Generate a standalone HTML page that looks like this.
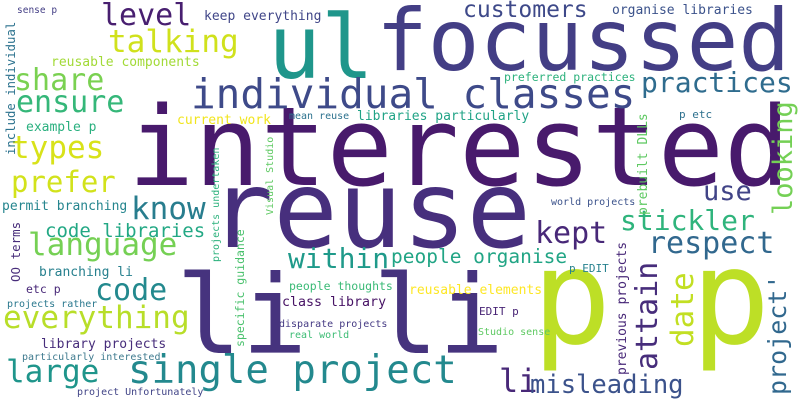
<!DOCTYPE html>
<html><head><meta charset="utf-8"><style>
html,body{margin:0;padding:0;background:#fff;}
svg{display:block;}
text{font-family:"DejaVu Sans Mono","Liberation Mono",monospace;}
</style></head><body>
<svg id="cloud" width="800" height="400" xmlns="http://www.w3.org/2000/svg">
<rect width="800" height="400" fill="#ffffff"/>
</svg>
<script>
// word, x, baseline y, font size, color, rotated(-90)
const words = [
["interested",128,185,110,"#481a6c",0],
["ul",268,78,88,"#1f968b",0],
["focussed",376,70,86,"#433e85",0],
["reuse",209,247,107,"#472f7d",0],
["li li",176,353,109,"#46337e",0],
["p p",532,343,132,"#bddf26",0],
["single project",128,383,39,"#23898e",0],
["li",499,392,32,"#482878",0],
["misleading",530,393,25.5,"#3b528b",0],
["level",101,25,30,"#481f70",0],
["keep everything",204,20,13,"#404688",0],
["sense p",17,13,9.5,"#433e85",0],
["talking",108,52,31,"#d0e11c",0],
["reusable components",51,66,13,"#a2da37",0],
["share",14,90,30,"#7ad151",0],
["ensure",16,112,30,"#35b779",0],
["individual classes",191,108,41,"#3e4a89",0],
["customers",463,17,23,"#3e4989",0],
["organise libraries",612,14,13,"#3b528b",0],
["practices",641,92,28,"#2f6c8e",0],
["preferred practices",504,81,11.5,"#2db27d",0],
["libraries particularly",357,120,13,"#20a386",0],
["mean reuse",289,119,10,"#2c728e",0],
["current work",177,124,13,"#f1e51d",0],
["example p",26,131,13,"#2ab07f",0],
["p etc",679,118,11,"#2d708e",0],
["types",11,158,31,"#d8e219",0],
["prefer",11,192,29,"#d2e21b",0],
["use",703,200,27,"#414487",0],
["know",131,219,31,"#287d8e",0],
["permit branching",2,210,13,"#25858e",0],
["code libraries",45,237,19,"#22a884",0],
["language",28,255,31,"#75d054",0],
["within",288,268,28,"#1f9a8a",0],
["people organise",391,263,19.5,"#21a585",0],
["kept",535,243,30,"#482878",0],
["stickler",620,230,28,"#2fb47c",0],
["respect",648,253,30,"#31688e",0],
["branching li",39,276,13,"#27808e",0],
["code",95,300,30,"#23898e",0],
["etc p",26,293,11.5,"#482878",0],
["people thoughts",289,290,11.5,"#3aba76",0],
["reusable elements",409,294,13,"#fde725",0],
["p EDIT",569,272,11,"#26818e",0],
["projects rather",7,307,10,"#2a788e",0],
["everything",3,328,31,"#b8de29",0],
["class library",282,306,13.3,"#471365",0],
["EDIT p",479,315,11,"#482475",0],
["disparate projects",279,327,10,"#443983",0],
["real world",289,338,10,"#3cbc74",0],
["Studio sense",478,335,10,"#5ec962",0],
["library projects",41,348,13,"#472d7b",0],
["particularly interested",22,360,10,"#3e7a8e",0],
["large",6,382,31,"#1f958b",0],
["project Unfortunately",77,395,10,"#414487",0],
["world projects",551,205,10,"#3b528b",0],
["include individual",15,155,12.3,"#2c728e",1],
["projects undertaken",219,262,10,"#2db27d",1],
["Visual Studio",273,215,10,"#5ec962",1],
["specific guidance",244,347,11.5,"#4ac16d",1],
["prebuilt DLLs",647,215,13,"#5ec962",1],
["looking",792,215,27,"#74d055",1],
["previous projects",626,375,13,"#482878",1],
["attain",657,370,30,"#472d7b",1],
["date",693,347,31,"#c2df23",1],
["project'",786,395,25,"#31688e",1],
["OO terms",20,282,12.5,"#472c7a",1]
];
const svg = document.getElementById('cloud');
const NS = 'http://www.w3.org/2000/svg';
words.forEach(w => {
  const t = document.createElementNS(NS, 'text');
  t.textContent = w[0];
  t.setAttribute('x', w[1]);
  t.setAttribute('y', w[2]);
  t.setAttribute('font-size', w[3]);
  t.setAttribute('fill', w[4]);
  t.setAttribute('xml:space', 'preserve');
  if (w[5]) t.setAttribute('transform', 'rotate(-90 ' + w[1] + ' ' + w[2] + ')');
  
  
  svg.appendChild(t);
});
</script>
</body></html>
